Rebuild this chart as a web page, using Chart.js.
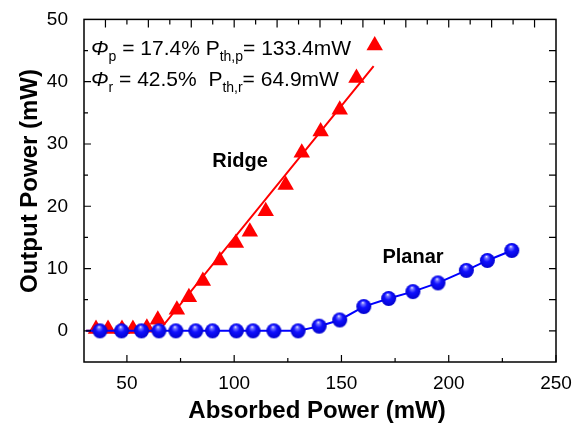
<!DOCTYPE html>
<html>
<head>
<meta charset="utf-8">
<script src="https://cdn.jsdelivr.net/npm/chart.js@4.4.0/dist/chart.umd.min.js"></script>
<style>
  html, body { margin: 0; padding: 0; background: #fff; }
</style>
</head>
<body>
<canvas id="chart" width="581" height="426"></canvas>
<script>
// Ridge (red triangles) - absorbed power vs output power
const ridgeX = [35.6, 41.2, 47.7, 52.8, 59.3, 64.4, 73.3, 78.9, 85.4, 93.3, 100.8, 107.3, 114.7, 124.0, 131.5, 140.3, 149.2, 157.0, 165.5];
const ridgeY = [0.3, 0.3, 0.3, 0.3, 0.5, 1.8, 3.4, 5.4, 8.0, 11.3, 14.1, 15.9, 19.2, 23.4, 28.6, 32.0, 35.5, 40.6, 45.8];

// linear fit for ridge (threshold 64.9 mW, slope 42.5%)
const ridgeFitX = [31, 64.9, 165];
const ridgeFitY = [0, 0, 42.5];

// Planar (blue spheres)
const planarX = [37.4, 47.5, 56.8, 64.9, 72.8, 82.1, 89.9, 101.0, 108.8, 118.5, 129.8, 139.6, 149.2, 160.4, 172.0, 183.3, 195.0, 208.2, 218.0, 229.4];
const planarY = [0, 0, 0, 0, 0, 0, 0, 0, 0, 0, 0, 0.75, 1.75, 3.9, 5.2, 6.3, 7.7, 9.7, 11.3, 12.9];

const planarLineX = [31].concat(planarX);
const planarLineY = [0].concat(planarY);

const xTicks = [50, 100, 150, 200, 250];
const yTicks = [0, 10, 20, 30, 40, 50];

const FONT = "'Liberation Sans', Arial, sans-serif";

function toPoints(xs, ys) {
    return xs.map((x, i) => ({ x: x, y: ys[i] }));
}

// shaded blue ball used as point style
function makeSphere(r) {
    const size = Math.ceil(r * 2) + 2;
    const c = document.createElement("canvas");
    c.width = size;
    c.height = size;
    const g = c.getContext("2d");
    const cx = size / 2, cy = size / 2;
    const grad = g.createRadialGradient(cx - 1, cy - r * 0.55, 0, cx, cy, r * 1.1);
    grad.addColorStop(0, "#f4f4ff");
    grad.addColorStop(0.18, "#7070ff");
    grad.addColorStop(0.45, "#1010ff");
    grad.addColorStop(1, "#0000c8");
    g.fillStyle = grad;
    g.beginPath();
    g.arc(cx, cy, r, 0, Math.PI * 2);
    g.fill();
    return c;
}

function drawRich(ctx, x, y, parts) {
    parts.forEach((p) => {
        ctx.font = (p.italic ? "italic " : "") + (p.sub ? "14px " : "21px ") + FONT;
        ctx.fillText(p.t, x, y + (p.sub ? 6 : 0));
        x += ctx.measureText(p.t).width;
    });
}

const framePlugin = {
    id: "frame",
    afterDatasetsDraw(chart) {
        const { ctx, chartArea: a, scales } = chart;
        const x = scales.x, y = scales.y;
        ctx.save();
        ctx.strokeStyle = "#000";
        ctx.lineWidth = 1.5;
        ctx.strokeRect(a.left, a.top, a.right - a.left, a.bottom - a.top);

        ctx.lineWidth = 1.2;
        ctx.beginPath();
        // bottom: major 50, minor 25
        for (let v = 50; v <= 250; v += 25) {
            const px = x.getPixelForValue(v);
            const len = v % 50 === 0 ? 7 : 4;
            ctx.moveTo(px, a.bottom);
            ctx.lineTo(px, a.bottom - len);
        }
        // top: major 20, minor 10
        for (let v = 40; v < 250; v += 10) {
            const px = x.getPixelForValue(v);
            const len = v % 20 === 0 ? 8 : 5;
            ctx.moveTo(px, a.top);
            ctx.lineTo(px, a.top + len);
        }
        // left: major 10, minor 5
        for (let v = 0; v < 50; v += 5) {
            const py = y.getPixelForValue(v);
            const len = v % 10 === 0 ? 7 : 4;
            ctx.moveTo(a.left, py);
            ctx.lineTo(a.left + len, py);
        }
        // right: every 5
        for (let v = 0; v < 50; v += 5) {
            const py = y.getPixelForValue(v);
            ctx.moveTo(a.right, py);
            ctx.lineTo(a.right - 7, py);
        }
        ctx.stroke();
        ctx.restore();
    },
    afterDraw(chart) {
        const { ctx } = chart;
        ctx.save();
        ctx.fillStyle = "#000";
        ctx.textBaseline = "alphabetic";
        ctx.textAlign = "left";
        drawRich(ctx, 91, 55, [
            { t: "\u03A6", italic: true },
            { t: "p", sub: true },
            { t: " = 17.4% P" },
            { t: "th,p", sub: true },
            { t: "= 133.4mW" },
        ]);
        drawRich(ctx, 91, 86, [
            { t: "\u03A6", italic: true },
            { t: "r", sub: true },
            { t: " = 42.5%  P" },
            { t: "th,r", sub: true },
            { t: "= 64.9mW" },
        ]);

        ctx.font = "bold 20px " + FONT;
        ctx.textAlign = "center";
        ctx.textBaseline = "middle";
        ctx.fillText("Ridge", 240, 161);
        ctx.fillText("Planar", 413, 257);

        // axis titles
        ctx.font = "bold 24px " + FONT;
        ctx.fillText("Absorbed Power (mW)", 317, 411);
        ctx.translate(30, 181);
        ctx.rotate(-Math.PI / 2);
        ctx.fillText("Output Power (mW)", 0, 0);
        ctx.restore();
    },
};

const sphere = makeSphere(7.5);

new Chart(document.getElementById("chart"), {
    type: "scatter",
    data: {
        datasets: [
            {
                label: "Planar",
                data: toPoints(planarX, planarY),
                pointStyle: sphere,
                pointRadius: 7.5,
                showLine: false,
            },
            {
                label: "Planar line",
                data: toPoints(planarLineX, planarLineY),
                showLine: true,
                borderColor: "#0000ff",
                borderWidth: 2,
                pointRadius: 0,
            },
            {
                label: "Ridge",
                data: toPoints(ridgeX, ridgeY),
                pointStyle: "triangle",
                pointRadius: 9.5,
                backgroundColor: "#ff0000",
                borderWidth: 0,
                showLine: false,
            },
            {
                label: "Ridge fit",
                data: toPoints(ridgeFitX, ridgeFitY),
                showLine: true,
                borderColor: "#ff0000",
                borderWidth: 2,
                pointRadius: 0,
            },
        ],
    },
    options: {
        responsive: false,
        animation: false,
        devicePixelRatio: 1,
        layout: { padding: { top: 17, right: 25, left: 0, bottom: 0 } },
        plugins: {
            legend: { display: false },
            tooltip: { enabled: false },
        },
        scales: {
            x: {
                type: "linear",
                min: 30,
                max: 250,
                grid: { display: false },
                border: { display: false },
                afterBuildTicks: (scale) => {
                    scale.ticks = xTicks.map((v) => ({ value: v }));
                },
                afterFit: (scale) => {
                    scale.height = 64;
                },
                ticks: {
                    color: "#000",
                    padding: 2,
                    maxRotation: 0,
                    font: { family: FONT, size: 19 },
                },
            },
            y: {
                type: "linear",
                min: -5,
                max: 50,
                grid: { display: false },
                border: { display: false },
                afterBuildTicks: (scale) => {
                    scale.ticks = yTicks.map((v) => ({ value: v }));
                },
                afterFit: (scale) => {
                    scale.width = 84;
                },
                ticks: {
                    color: "#000",
                    padding: 8,
                    font: { family: FONT, size: 19 },
                },
            },
        },
    },
    plugins: [framePlugin],
});
</script>
</body>
</html>
